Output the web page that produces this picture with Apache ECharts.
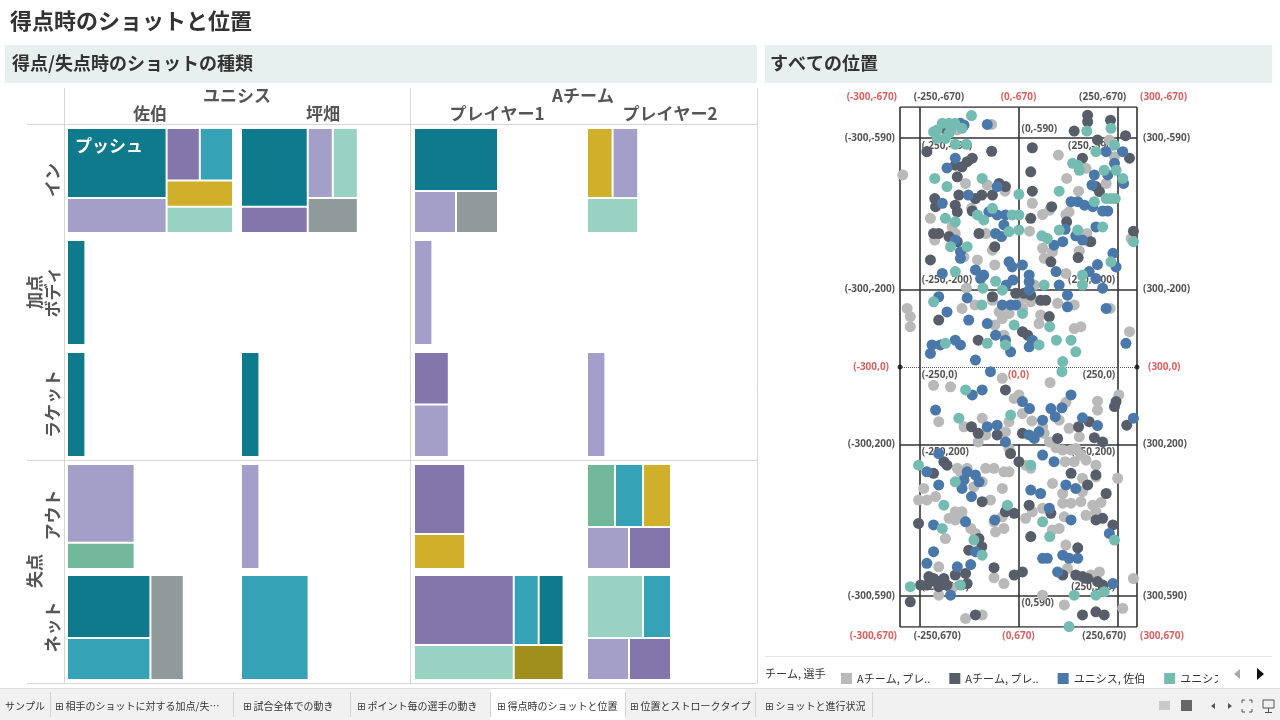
<!DOCTYPE html>
<html><head><meta charset="utf-8">
<script src="https://cdn.jsdelivr.net/npm/echarts@6/dist/echarts.min.js"></script>
<style>html,body{margin:0;padding:0;background:#fff}#c{width:1280px;height:720px}</style>
</head><body><div id="c"></div>
<script>
// ---------- text ----------
const pageTitle = '得点時のショットと位置';
const leftTitle = '得点/失点時のショットの種類';
const rightTitle = 'すべての位置';
const legendTitle = 'チーム, 選手';
const teams = ['ユニシス', 'Aチーム'];
const players = ['佐伯', '坪畑', 'プレイヤー1', 'プレイヤー2'];
const outcomes = ['加点', '失点'];
const results = ['イン', 'ボディ', 'ラケット', 'アウト', 'ネット'];
const tabLabels = ['サンプル', '相手のショットに対する加点/失…', '試合全体での動き', 'ポイント毎の選手の動き', '得点時のショットと位置', '位置とストロークタイプ', 'ショットと進行状況'];

// ---------- shot types ----------
const shotTypes = ['プッシュ', 'ドライブ', 'スマッシュ', 'ヘアピン', 'ロブ', 'クリアー', 'ドロップ', 'カット', 'サービス'];
const shotColors = ['#0f7a8b', '#a39fc8', '#8476aa', '#36a2b5', '#d0b02b', '#97d2c2', '#909a9b', '#71b89a', '#a08e1d'];

// counts per player (佐伯, 坪畑, プレイヤー1, プレイヤー2)
const inShots = [
  [['プッシュ', 4], ['ドライブ', 2], ['スマッシュ', 1], ['ヘアピン', 1], ['ロブ', 1], ['クリアー', 1]],
  [['プッシュ', 3], ['スマッシュ', 1], ['ドライブ', 1], ['クリアー', 1], ['ドロップ', 1]],
  [['プッシュ', 3], ['ドライブ', 1], ['ドロップ', 1]],
  [['ロブ', 1], ['ドライブ', 1], ['クリアー', 1]]
];
const bodyShots = [[['プッシュ', 1]], [], [['ドライブ', 1]], []];
const racketShots = [[['プッシュ', 1]], [['プッシュ', 1]], [['スマッシュ', 1], ['ドライブ', 1]], [['ドライブ', 1]]];
const outShots = [
  [['ドライブ', 3], ['カット', 1]],
  [['ドライブ', 1]],
  [['スマッシュ', 2], ['ロブ', 1]],
  [['カット', 1], ['ヘアピン', 1], ['ロブ', 1], ['ドライブ', 1], ['スマッシュ', 1]]
];
const netShots = [
  [['プッシュ', 3], ['ヘアピン', 2], ['ドロップ', 2]],
  [['ヘアピン', 4]],
  [['スマッシュ', 4], ['クリアー', 2], ['ヘアピン', 1], ['プッシュ', 1], ['サービス', 1]],
  [['クリアー', 2], ['ヘアピン', 1], ['ドライブ', 1], ['スマッシュ', 1]]
];
const shotsByResult = [inShots, bodyShots, racketShots, outShots, netShots];

// ---------- positions on court ----------
const seriesNames = ['Aチーム, プレイヤー1', 'Aチーム, プレイヤー2', 'ユニシス, 佐伯', 'ユニシス, 坪畑'];
const seriesColors = ['#b9b9b9', '#575d69', '#4a78aa', '#74bcb2'];
const playerA1Points = [[-155,-611],[-68,-625],[101,-546],[230,-585],[243,-542],[171,-512],[-293,-495],[-134,-473],[-79,-469],[-34,-453],[35,-422],[122,-486],[152,-453],[222,-473],[-119,-409],[-223,-383],[61,-393],[79,-404],[120,-393],[128,-400],[173,-344],[-212,-327],[-168,-361],[-160,-344],[-138,-284],[-83,-344],[28,-350],[178,-323],[285,-331],[-66,-301],[-104,-276],[-60,-263],[61,-306],[65,-280],[86,-297],[154,-299],[120,-241],[-132,-203],[40,-211],[10,-177],[31,-168],[99,-164],[-143,-151],[-110,-160],[-66,-172],[-49,-142],[-41,-125],[-24,-138],[10,-151],[56,-134],[141,-160],[141,-99],[232,-151],[-282,-151],[-274,-130],[-274,-104],[-60,-108],[-37,-82],[52,-112],[158,-104],[281,-91],
[-215,47],[-172,51],[-41,29],[80,40],[-11,81],[1,72],[120,91],[10,120],[34,139],[61,154],[103,137],[200,88],[254,72],[200,111],[-202,141],[-92,132],[-138,154],[-24,141],[128,158],[154,180],[-83,175],[-102,193],[-33,167],[-24,210],[65,171],[78,193],[95,208],[112,214],[133,214],[145,210],[158,227],[171,240],[118,244],[141,244],[196,253],[-155,261],[-147,270],[-130,261],[-83,261],[-62,261],[-37,270],[-24,270],[18,253],[31,261],[-240,313],[-253,343],[-232,343],[-210,334],[-113,309],[-92,296],[-41,313],[-160,373],[-143,373],[-143,390],[-71,343],[18,390],[35,373],[61,364],[112,326],[162,321],[86,300],[162,287],[196,283],[251,287],[112,351],[133,351],[158,347],[188,356],[196,373],[209,349],[171,382],[103,416],[-176,390],[-160,394],[-121,416],[-109,429],[-62,399],[-41,386],[-185,442],[-58,425],[-37,416],[86,420],[120,459],[116,386],[-202,515],[-168,570],[-202,588],[-62,543],[-37,558],[124,519],[183,536],[205,528],[291,545],[61,588],[264,622],[-134,648],[-92,639],[116,613]];
const playerA2Points = [[-189,-615],[175,-649],[175,-632],[233,-636],[141,-608],[271,-596],[-232,-555],[-68,-556],[35,-565],[162,-538],[200,-585],[281,-538],[-160,-520],[-143,-516],[-130,-529],[-117,-538],[-155,-490],[-49,-473],[-33,-465],[31,-503],[35,-453],[196,-465],[205,-452],[-212,-434],[-210,-413],[-151,-443],[-109,-434],[-93,-443],[-66,-443],[-160,-417],[-155,-400],[-117,-402],[31,-383],[84,-413],[122,-374],[-215,-344],[-202,-344],[-176,-336],[-155,-323],[-100,-344],[183,-323],[291,-350],[-60,-310],[82,-271],[151,-282],[-223,-276],[-66,-181],[-7,-190],[14,-190],[31,-185],[56,-172],[69,-172],[78,-130],[-202,-121],[10,-91],[23,-82],[-102,-69],
[-33,59],[247,89],[243,102],[-119,154],[152,154],[179,141],[192,182],[213,193],[274,150],[-102,171],[-54,175],[-20,223],[10,171],[99,184],[196,278],[-189,244],[-181,253],[-215,274],[1,244],[-92,347],[-33,373],[27,356],[-11,377],[82,377],[175,304],[222,326],[133,274],[213,390],[196,394],[239,407],[-253,403],[-100,442],[-93,463],[-126,472],[31,437],[150,466],[-62,517],[-11,536],[-227,540],[-215,545],[-206,553],[-189,545],[-181,562],[-248,562],[-232,562],[-202,566],[-160,536],[-134,532],[-130,558],[-274,605],[10,528],[112,536],[145,536],[162,540],[175,545],[200,553],[213,562],[-109,639],[162,639],[196,631],[217,639]];
const saekiPoints = [[-147,-628],[-138,-623],[-79,-625],[222,-555],[264,-555],[-160,-538],[-181,-513],[243,-525],[-54,-465],[192,-495],[226,-495],[266,-473],[186,-469],[-193,-422],[-127,-443],[-75,-400],[-54,-392],[-33,-392],[133,-426],[150,-426],[167,-417],[188,-413],[213,-402],[226,-402],[118,-355],[196,-361],[-160,-327],[-147,-297],[-58,-344],[-43,-336],[-37,-366],[90,-314],[112,-323],[145,-338],[162,-327],[239,-293],[200,-264],[247,-258],[-147,-280],[-193,-241],[-88,-237],[-109,-250],[-24,-271],[-16,-258],[10,-263],[27,-237],[27,-220],[95,-246],[179,-246],[-96,-228],[-31,-211],[-14,-224],[27,-198],[103,-211],[124,-185],[213,-203],[196,-228],[-202,-181],[-130,-178],[-41,-160],[-20,-160],[-7,-160],[124,-155],[222,-151],[-181,-142],[-126,-121],[-79,-112],[-58,-82],[-33,-69],[-20,-39],[35,-69],[27,-52],[-109,-18],[-219,-57],[-223,-35],[-160,-69],[-147,-57],[-198,-57],[272,-61],
[-71,12],[-117,72],[-92,59],[10,89],[28,107],[82,107],[110,105],[133,72],[61,137],[93,128],[-210,111],[-79,154],[-54,150],[162,131],[200,151],[291,132],[-33,193],[27,175],[40,184],[52,167],[61,227],[90,244],[-202,223],[-232,270],[-130,270],[-109,278],[-138,291],[-100,296],[-202,304],[-143,313],[-119,334],[31,317],[56,326],[78,364],[120,304],[145,313],[133,394],[230,429],[-215,407],[-134,399],[-60,394],[-215,476],[-109,476],[61,493],[73,493],[112,485],[128,493],[150,493],[-232,506],[-155,515],[-121,509],[-172,588],[99,528],[239,558]];
const tsubohataPoints = [[-119,-648],[-193,-628],[-176,-628],[-161,-628],[-206,-611],[-172,-611],[-143,-615],[-215,-606],[-185,-589],[-176,-602],[173,-608],[234,-615],[-160,-574],[-132,-574],[-206,-589],[243,-572],[196,-555],[137,-525],[154,-507],[150,-520],[-212,-486],[-181,-465],[-92,-486],[1,-445],[103,-453],[264,-486],[217,-507],[247,-507],[-185,-383],[-160,-374],[-104,-392],[-88,-379],[-66,-409],[-16,-392],[1,-392],[192,-426],[222,-434],[234,-434],[245,-434],[103,-353],[150,-353],[213,-361],[-172,-310],[-24,-349],[1,-353],[59,-338],[73,-331],[234,-271],[291,-323],[-130,-310],[-160,-246],[-58,-221],[162,-237],[-90,-203],[-41,-198],[65,-211],[162,-211],[-215,-168],[-93,-160],[10,-138],[-11,-108],[-33,-57],[79,-104],[96,-69],[52,-57],[133,-69],[145,-39],[-79,-61],[-185,-61],[112,-14],
[110,12],[-134,59],[-20,124],[-151,132],[-253,253],[-160,296],[31,253],[-189,356],[-28,356],[61,399],[243,446],[-193,416],[-113,446],[-92,485],[79,437],[-147,562],[-274,566],[141,588],[196,588],[217,579],[128,669]];
const pointSets = [playerA1Points, playerA2Points, saekiPoints, tsubohataPoints];

// ---------- court ----------
const courtLines = [[-300,-670,300,-670],[-300,670,300,670],[-300,-670,-300,670],[300,-670,300,670],[-250,-670,-250,670],[250,-670,250,670],[-300,-590,300,-590],[-300,590,300,590],[-300,-200,300,-200],[-300,200,300,200],[0,-670,0,-200],[0,200,0,670]];
const netLine = [[-300,0,300,0]];
const courtMarks = [[-300,-670],[-250,-670],[0,-670],[250,-670],[300,-670],[-300,-590],[-250,-590],[0,-590],[250,-590],[300,-590],[-300,-200],[-250,-200],[250,-200],[300,-200],[-300,0],[-250,0],[0,0],[250,0],[300,0],[-300,200],[-250,200],[250,200],[300,200],[-300,590],[-250,590],[0,590],[250,590],[300,590],[-300,670],[-250,670],[0,670],[250,670],[300,670]];

// ================= build =================
const JP = '"Noto Sans CJK JP", "Noto Sans", sans-serif';
const chart = echarts.init(document.getElementById('c'), null, {renderer: 'canvas'});

const colorOf = name => shotColors[shotTypes.indexOf(name)];
const colLeft = [68, 242, 415, 588];
const rowTop = [129, 241, 353, 465, 576];
const paneH = 103, unitW = 16.4;

const series = [];
shotsByResult.forEach((byPlayer, r) => {
  byPlayer.forEach((items, p) => {
    if (!items.length) return;
    const total = items.reduce((s, d) => s + d[1], 0);
    series.push({
      type: 'treemap', left: colLeft[p], top: rowTop[r], width: total * unitW, height: paneH,
      sort: false, roam: false, nodeClick: false, silent: true, animation: false,
      breadcrumb: {show: false},
      label: {show: false}, upperLabel: {show: false},
      itemStyle: {borderWidth: 0, gapWidth: 2, borderColor: '#fff'},
      levels: [{itemStyle: {borderWidth: 0, gapWidth: 2, borderColor: '#fff'}}, {itemStyle: {borderWidth: 0}}],
      data: items.map((d, i) => {
        const o = {name: d[0], value: d[1], itemStyle: {color: colorOf(d[0])}};
        if (r === 0 && p === 0 && i === 0) {
          o.label = {show: true, position: 'insideTopLeft', offset: [2, 3], color: '#fff', fontSize: 17, fontWeight: 'bold', fontFamily: JP};
        }
        return o;
      })
    });
  });
});

// court lines
series.push({
  type: 'lines', coordinateSystem: 'cartesian2d', polyline: false, silent: true, animation: false, z: 2,
  data: courtLines.map(s => ({coords: [[s[0], s[1]], [s[2], s[3]]]})),
  lineStyle: {color: '#333', width: 1.6, opacity: 1}
});
series.push({
  type: 'lines', coordinateSystem: 'cartesian2d', polyline: false, silent: true, animation: false, z: 2,
  data: netLine.map(s => ({coords: [[s[0], s[1]], [s[2], s[3]]]})),
  lineStyle: {color: '#555', width: 1, type: 'dotted', opacity: 1}
});
series.push({
  type: 'scatter', silent: true, animation: false, z: 4, symbolSize: 5,
  data: netLine.flatMap(s => [[s[0], s[1]], [s[2], s[3]]]),
  itemStyle: {color: '#111'}
});

function markLabel(x, y) {
  const red = (Math.abs(x) === 300 || x === 0) && (Math.abs(y) === 670 || y === 0);
  const edgeX = Math.abs(x) === 300, endY = Math.abs(y) === 670;
  let align = 'center', dx = 0, dy = 0;
  if (x === -300) { align = 'right'; dx = endY ? -3 : (y === 0 ? -11 : -5); }
  else if (x === 300) { align = 'left'; dx = endY ? 3 : (y === 0 ? 11 : 6); }
  else if (x === -250) { align = 'left'; dx = endY ? -6 : 2; }
  else if (x === 250) { align = 'right'; dx = endY ? 9 : -2; }
  else if (Math.abs(y) === 590) { align = 'left'; dx = 3; }
  if (y === -670) dy = -10;
  else if (y === 670) dy = 9;
  else if (!edgeX) {
    if (y === -590) dy = x === 0 ? -9 : 8;
    else if (y === 590) dy = x === 0 ? 7 : -9;
    else if (y === -200) dy = -9;
    else dy = 8;
  }
  return {show: true, position: 'inside', align: align, verticalAlign: 'middle', offset: [dx, dy], color: red ? '#d0393b' : '#2a2a2a'};
}
series.push({
  type: 'scatter', silent: true, animation: false, z: 3, symbolSize: 1,
  itemStyle: {color: 'rgba(0,0,0,0)'},
  label: {show: true, fontSize: 10, fontWeight: 'bold', fontFamily: '"Noto Sans", sans-serif',
    formatter: p => '(' + p.value[0] + ',' + p.value[1] + ')'},
  data: courtMarks.map(([x, y]) => ({value: [x, y], label: markLabel(x, y)}))
});

pointSets.forEach((pts, i) => {
  series.push({
    type: 'scatter', name: seriesNames[i], data: pts, symbolSize: 11, z: 5, silent: true, animation: false,
    clip: false, itemStyle: {color: seriesColors[i], opacity: 1}
  });
});

// ---------- static graphics ----------
const G = [];
const txt = (x, y, text, font, fill, align, extra) => Object.assign({type: 'text', x: x, y: y, silent: true,
  style: {text: text, font: font, fill: fill, align: align || 'left', verticalAlign: 'middle', textAlign: align || 'left', textVerticalAlign: 'middle'}}, extra || {});
const line = (x1, y1, x2, y2, c, w) => ({type: 'line', silent: true, shape: {x1: x1, y1: y1, x2: x2, y2: y2}, style: {stroke: c, lineWidth: w || 1}});
const rect = (x, y, w, h, c, extra) => Object.assign({type: 'rect', silent: true, shape: {x: x, y: y, width: w, height: h}, style: {fill: c}}, extra || {});

G.push(txt(10, 21, pageTitle, 'bold 22px ' + JP, '#333'));
G.push(rect(5, 45, 752, 38, '#e8f0ef'));
G.push(rect(765, 45, 507, 38, '#e8f0ef'));
G.push(txt(12, 63, leftTitle, 'bold 18px ' + JP, '#333'));
G.push(txt(770, 63, rightTitle, 'bold 18px ' + JP, '#333'));

// table grid lines
const gl = '#d6d6d6';
G.push(line(27, 124.5, 757, 124.5, gl));
G.push(line(27, 460.5, 757, 460.5, gl));
G.push(line(27, 683.5, 757, 683.5, gl));
G.push(line(64.5, 88, 64.5, 683, gl));
G.push(line(410.5, 88, 410.5, 683, gl));
G.push(line(757.5, 88, 757.5, 683, gl));

// headers
const colCenters = [150, 323, 497, 670];
const hdrFont = 'bold 17px ' + JP, hdrCol = '#555';
G.push(txt(237, 96, teams[0], hdrFont, hdrCol, 'center'));
G.push(txt(583, 96, teams[1], hdrFont, hdrCol, 'center'));
players.forEach((p, i) => G.push(txt(colCenters[i], 114, p, hdrFont, hdrCol, 'center')));
const rowCenters = [180, 292, 404, 515, 627];
results.forEach((r, i) => G.push(txt(53, rowCenters[i], r, hdrFont, hdrCol, 'center', {rotation: Math.PI / 2})));
G.push(txt(35, 292, outcomes[0], hdrFont, hdrCol, 'center', {rotation: Math.PI / 2}));
G.push(txt(35, 571, outcomes[1], hdrFont, hdrCol, 'center', {rotation: Math.PI / 2}));

// legend area
G.push(line(765, 656.5, 1272, 656.5, '#e4e4e4'));
G.push(txt(765, 674, legendTitle, '11px ' + JP, '#333'));
// legend overflow mask + page arrows (legend is cut off like the original)
G.push(rect(1218, 660, 62, 27, '#ffffff', {z: 100}));
G.push({type: 'polygon', silent: true, z: 101, shape: {points: [[1234, 674], [1240, 669], [1240, 679]]}, style: {fill: '#aaa'}});
G.push({type: 'polygon', silent: true, z: 101, shape: {points: [[1264, 674], [1257, 668], [1257, 680]]}, style: {fill: '#111'}});

// tab bar
G.push(rect(0, 689, 1280, 31, '#f1f1f1'));
G.push(line(0, 688.5, 1280, 688.5, '#dcdcdc'));
G.push(rect(490, 689, 135, 31, '#ffffff'));
const tabX = [5, 55, 243, 357, 497, 630, 765];
const tabSep = [50, 233, 350, 490, 625, 755, 872];
tabLabels.forEach((t, i) => {
  G.push(txt(tabX[i], 706, (i ? '⊞ ' : '') + t, '10px ' + JP + ', "DejaVu Sans"', '#333'));
  G.push(line(tabSep[i] + 0.5, 692, tabSep[i] + 0.5, 717, '#d4d4d4'));
});
// bottom-right icons
G.push(rect(1159, 701, 11, 9, '#c9c9c9'));
G.push(rect(1181, 700, 11, 11, '#666'));
G.push({type: 'polygon', silent: true, shape: {points: [[1211, 706], [1215, 703], [1215, 709]]}, style: {fill: '#555'}});
G.push({type: 'polygon', silent: true, shape: {points: [[1232, 706], [1228, 703], [1228, 709]]}, style: {fill: '#555'}});
[[1242, 700, 1], [1252, 700, -1], [1242, 712, 1], [1252, 712, -1]].forEach(([x, y, s]) => {
  G.push({type: 'polyline', silent: true, shape: {points: [[x, y + (y < 706 ? 3 : -3)], [x, y], [x + 3 * s, y]]}, style: {stroke: '#555', lineWidth: 1, fill: null}});
});
G.push({type: 'rect', silent: true, shape: {x: 1263, y: 700, width: 11, height: 8}, style: {fill: null, stroke: '#555', lineWidth: 1}});
G.push(line(1268.5, 708, 1268.5, 712, '#555'));
G.push(line(1265, 712.5, 1272, 712.5, '#555'));

chart.setOption({
  animation: false,
  backgroundColor: '#ffffff',
  textStyle: {fontFamily: JP},
  grid: {left: 900, top: 107, width: 237, height: 520, containLabel: false, show: false},
  xAxis: {type: 'value', min: -300, max: 300, show: false},
  yAxis: {type: 'value', min: -670, max: 670, inverse: true, show: false},
  legend: {
    type: 'plain', left: 836, top: 668, orient: 'horizontal', z: 4,
    itemWidth: 11, itemHeight: 11, itemGap: 19, icon: 'rect',
    data: seriesNames,
    textStyle: {fontSize: 11, color: '#333', fontFamily: JP},
    formatter: n => n.length > 9 ? n.slice(0, 8) + '..' : n,
    selectedMode: false
  },
  series: series,
  graphic: {elements: G}
});
</script>
</body></html>
